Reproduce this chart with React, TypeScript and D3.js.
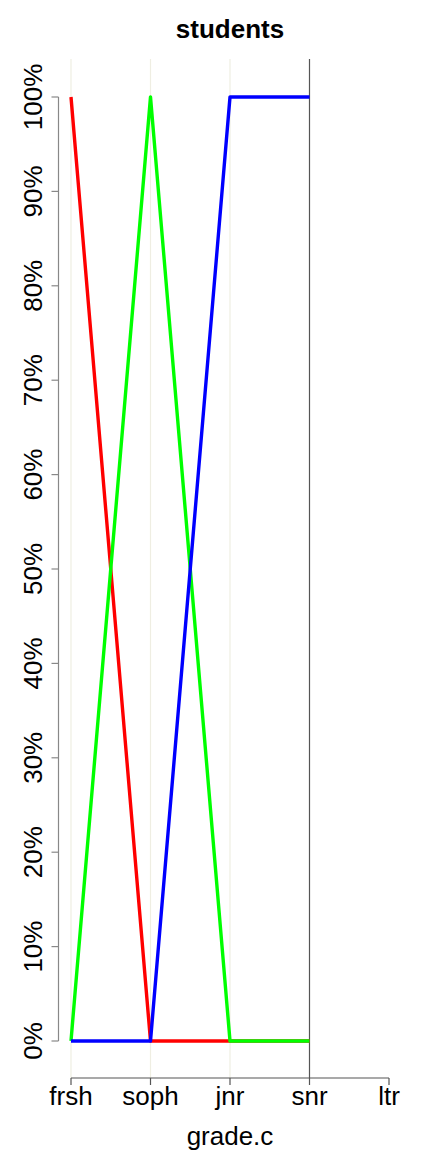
import React, { useEffect } from "react";
import * as d3 from "d3";

const categories = ["frsh", "soph", "jnr", "snr", "ltr"];
const yTicks = [0, 0.1, 0.2, 0.3, 0.4, 0.5, 0.6, 0.7, 0.8, 0.9, 1.0];
const seriesNames = ["red", "green", "blue"];
const seriesColors = ["#ff0000", "#00ff00", "#0000ff"];
const seriesCats = ["frsh", "soph", "jnr", "snr"];
const redValues = [1, 0, 0, 0];
const greenValues = [0, 1, 0, 0];
const blueValues = [0, 0, 1, 1];
const lightGridCats = ["frsh", "soph", "jnr"];
const darkGridCats = ["snr"];

export default function App() {
  useEffect(() => {
    document.body.style.margin = "0";
  }, []);
  const W = 432, H = 1152;
  const x = d3.scalePoint<string>().domain(categories).range([71, 389]);
  const y = d3.scaleLinear().domain([0, 1]).range([1041, 97]);
  const plotTop = 59, plotBottom = 1078;
  const line = d3
    .line<number>()
    .x((_, i) => x(seriesCats[i]) as number)
    .y((d) => y(d));
  const all = [redValues, greenValues, blueValues];
  const font = "'Liberation Sans', Arial, Helvetica, sans-serif";
  return (
    <svg width={W} height={H} style={{ display: "block" }} fontFamily={font}>
      <rect width={W} height={H} fill="#ffffff" />
      {lightGridCats.map((c) => (
        <line key={c} x1={x(c)} x2={x(c)} y1={plotTop} y2={plotBottom} stroke="#efeee2" strokeWidth={1.2} />
      ))}
      {darkGridCats.map((c) => (
        <line key={c} x1={x(c)} x2={x(c)} y1={plotTop} y2={plotBottom} stroke="#555555" strokeWidth={1.2} />
      ))}
      {all.map((vals, i) => (
        <path key={seriesNames[i]} d={line(vals) || ""} fill="none" stroke={seriesColors[i]} strokeWidth={3.4} strokeLinejoin="round" />
      ))}
      {/* y axis */}
      <line x1={58.5} x2={58.5} y1={y(0)} y2={y(1)} stroke="#888888" strokeWidth={1.2} />
      {yTicks.map((t) => (
        <g key={t}>
          <line x1={51.5} x2={58.5} y1={y(t)} y2={y(t)} stroke="#888888" strokeWidth={1.2} />
          <text
            transform={`translate(42,${y(t)}) rotate(-90)`}
            textAnchor="middle"
            fontSize={26}
            fill="#000"
          >
            {d3.format(".0%")(t)}
          </text>
        </g>
      ))}
      {/* x axis */}
      <line x1={x("frsh")} x2={x("ltr")} y1={1078} y2={1078} stroke="#555555" strokeWidth={1.2} />
      {categories.map((c) => (
        <g key={c}>
          <line x1={x(c)} x2={x(c)} y1={1078} y2={1085} stroke="#555555" strokeWidth={1.2} />
          <text x={x(c)} y={1105} textAnchor="middle" fontSize={26} fill="#000">
            {c}
          </text>
        </g>
      ))}
      <text x={230} y={1145} textAnchor="middle" fontSize={26} fill="#000">
        grade.c
      </text>
      <text x={230} y={38} textAnchor="middle" fontSize={26} fontWeight="bold" fill="#000">
        students
      </text>
    </svg>
  );
}
